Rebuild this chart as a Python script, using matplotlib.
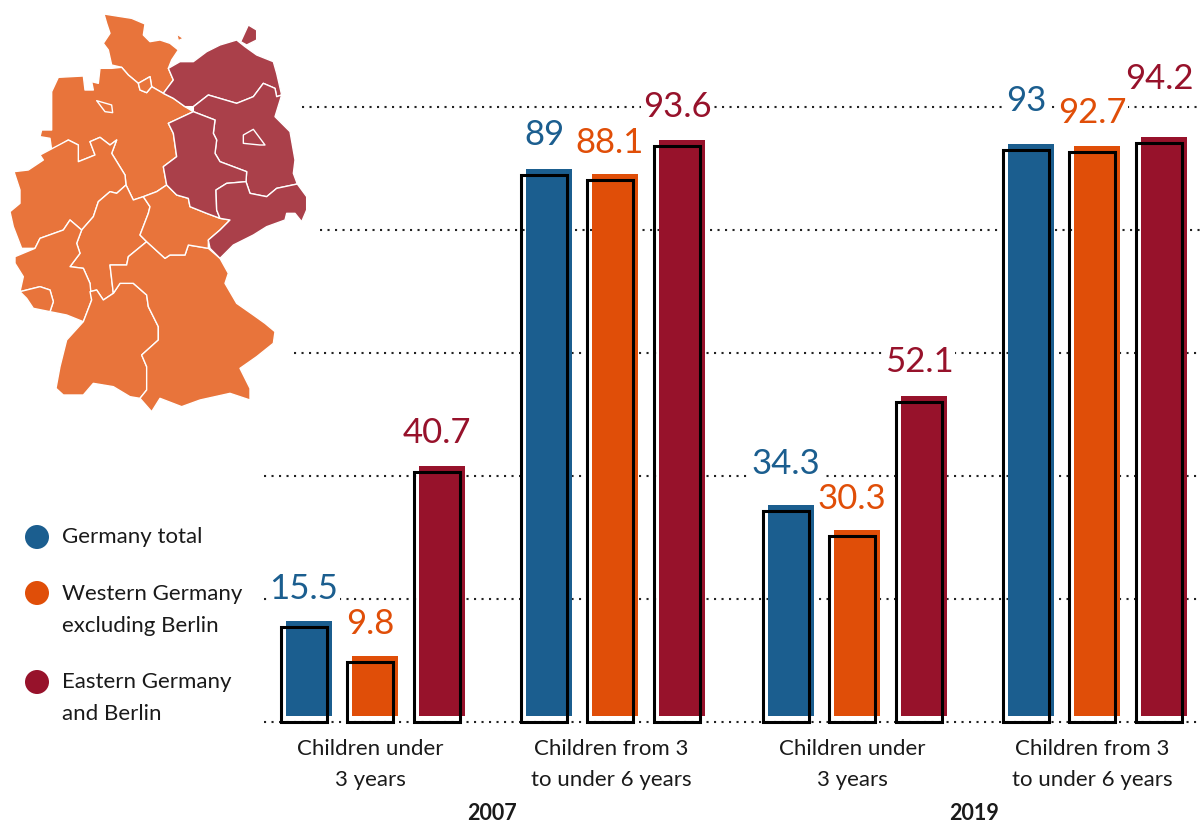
import matplotlib
matplotlib.use("Agg")
import matplotlib.pyplot as plt
from matplotlib.patches import Polygon, Circle, Rectangle

FONT = "Lato"
plt.rcParams["font.family"] = [FONT, "DejaVu Sans"]

# ---------- data ----------
groups = ["Children under\n3 years", "Children from 3\nto under 6 years",
          "Children under\n3 years", "Children from 3\nto under 6 years"]
years = ["2007", "2019"]
series = ["Germany total", "Western Germany\nexcluding Berlin", "Eastern Germany\nand Berlin"]
germany_total = [15.5, 89, 34.3, 93]
western = [9.8, 88.1, 30.3, 92.7]
eastern = [40.7, 93.6, 52.1, 94.2]
label_total = ["15.5", "89", "34.3", "93"]
label_west = ["9.8", "88.1", "30.3", "92.7"]
label_east = ["40.7", "93.6", "52.1", "94.2"]
grid_values = [0, 20, 40, 60, 80, 100]

# ---------- style ----------
colors = ["#1B5E8F", "#E04E08", "#97122B"]
MAP_W, MAP_E = "#E8743B", "#AA404A"
W, H = 1200, 825
Y0, PX = 722, 6.15

fig = plt.figure(figsize=(12, 8.25), dpi=100)
ax = fig.add_axes([0, 0, 1, 1])
ax.set_xlim(0, W)
ax.set_ylim(-(H - Y0) / PX, Y0 / PX)
ax.axis("off")

# gridlines
grid_start = [264, 264, 264, 294, 320, 302]
for v, xs in zip(grid_values, grid_start):
    ax.plot([xs, W], [v, v], color="#222222", lw=1.5, dashes=(1.0, 2.6), zorder=1)

group_x = [281, 521, 763, 1003]
bar_step = [0, 66, 133]
BW = 46
DX, DY = 5, 6 / PX
off_total = [38, 40, 47, 49]
off_west = [38, 37, 37, 39]
off_east = [39, 39, 40, 64]
sets = [(germany_total, label_total, off_total),
        (western, label_west, off_west),
        (eastern, label_east, off_east)]

for s, (vals, labs, offs) in enumerate(sets):
    for g, (v, lab, off) in enumerate(zip(vals, labs, offs)):
        x = group_x[g] + bar_step[s]
        ax.bar(x + DX, v, width=BW, bottom=DY, align="edge", color=colors[s], lw=0, zorder=2)
        ax.bar(x, v, width=BW, align="edge", facecolor="none", edgecolor="black", lw=2.2, zorder=3)
        ax.text(x + BW / 2, v + off / PX, lab, color=colors[s], fontsize=25, ha="center",
                va="center", zorder=4,
                bbox=dict(facecolor="white", edgecolor="none", pad=1))

def ypx(p):
    return (Y0 - p) / PX

# category labels
for x, g in zip([370, 611, 852, 1092], groups):
    a, b = g.split("\n")
    ax.text(x, ypx(749), a, ha="center", va="center", fontsize=16, color="#1a1a1a")
    ax.text(x, ypx(780), b, ha="center", va="center", fontsize=16, color="#1a1a1a")
for x, y in zip([492, 974], years):
    ax.text(x, ypx(813), y, ha="center", va="center", fontsize=15.5, fontweight="bold", color="#1a1a1a")

# legend + map overlay in pixel coordinates
ov = fig.add_axes([0, 0, 1, 1], facecolor="none")
ov.set_xlim(0, W)
ov.set_ylim(H, 0)
ov.axis("off")
for c, cy, name, tys in zip(colors, [537, 593, 682], series, [[537], [594, 626], [682, 714]]):
    ov.add_patch(Circle((37, cy), 12, color=c, lw=0))
    for t, ty in zip(name.split("\n"), tys):
        ov.text(62, ty, t, va="center", ha="left", fontsize=16, color="#1a1a1a")

# map outlines traced at 3x scale
sh = [(312,42),(350,48),(395,55),(435,72),(430,105),(450,125),(480,120),(510,130),(535,150),(515,180),(505,205),(520,240),(490,280),(455,260),(450,230),(415,250),(385,225),(365,202),(335,195),(325,150),(310,130),(330,100),(320,70)]
feh = [(530,102),(550,115),(535,122)]
hh = [(415,250),(450,230),(455,260),(440,278),(420,270)]
mv = [(505,205),(540,185),(580,185),(620,155),(660,135),(710,120),(735,140),(770,165),(820,185),(830,220),(845,285),(830,290),(825,265),(790,250),(760,290),(710,310),(625,285),(580,320),(555,320),(520,295),(490,280),(520,240)]
rug = [(722,125),(745,75),(770,90),(770,120),(740,135)]
bb = [(580,320),(625,285),(710,310),(760,290),(790,250),(825,265),(830,290),(845,285),(825,350),(870,395),(885,480),(880,520),(892,552),(830,565),(800,590),(750,580),(738,545),(740,515),(660,485),(645,460),(650,420),(640,400),(645,360),(580,335)]
be = [(730,405),(760,388),(795,435),(780,435),(730,430)]
st = [(505,370),(580,335),(645,360),(640,400),(650,420),(645,460),(660,485),(740,515),(738,545),(680,550),(648,570),(650,630),(660,655),(620,640),(570,620),(565,595),(530,585),(500,555),(490,500),(530,470),(520,400)]
sn = [(648,570),(680,550),(738,545),(750,580),(800,590),(830,565),(892,552),(920,590),(920,630),(905,665),(885,640),(860,640),(855,660),(800,680),(760,705),(700,735),(660,775),(630,745),(625,720),(660,690),(690,660),(660,655),(650,630)]
th = [(430,590),(470,575),(500,555),(530,585),(565,595),(570,620),(620,640),(660,655),(690,660),(660,690),(625,720),(625,745),(565,735),(555,765),(510,765),(495,775),(440,725),(420,705),(445,640),(450,620)]
by = [(330,795),(380,795),(385,770),(440,725),(495,775),(510,765),(555,765),(565,735),(625,745),(660,775),(685,820),(675,850),(710,910),(760,945),(795,970),(825,995),(820,1030),(770,1070),(720,1105),(750,1165),(750,1200),(690,1180),(600,1200),(545,1220),(480,1195),(455,1235),(420,1195),(440,1170),(440,1100),(425,1065),(475,1020),(475,980),(445,920),(440,885),(400,850),(360,850),(340,880)]
bw = [(250,965),(275,900),(270,875),(290,870),(310,900),(340,880),(360,850),(400,850),(440,885),(445,920),(475,980),(475,1020),(425,1065),(440,1100),(440,1170),(420,1195),(390,1190),(340,1160),(280,1150),(250,1185),(190,1185),(168,1165),(180,1100),(200,1020)]
he = [(295,605),(330,575),(350,580),(378,555),(400,600),(430,590),(450,620),(445,640),(420,705),(440,725),(385,770),(380,795),(330,795),(340,880),(310,900),(290,870),(270,875),(270,850),(250,805),(210,800),(240,760),(230,730),(245,690),(280,650)]
rp = [(45,770),(105,745),(120,715),(190,690),(210,660),(245,690),(230,730),(240,760),(210,800),(250,805),(270,850),(275,900),(250,965),(200,945),(150,935),(160,905),(150,870),(120,860),(60,875),(70,830),(45,790)]
sl = [(60,875),(120,860),(150,870),(160,905),(150,935),(100,925),(80,895)]
nw = [(42,515),(85,510),(130,480),(120,465),(205,420),(235,435),(235,485),(285,465),(270,425),(300,412),(330,435),(350,420),(335,460),(375,525),(378,555),(350,580),(330,575),(295,605),(280,650),(245,690),(210,660),(190,690),(120,715),(105,745),(65,745),(40,680),(30,635),(60,610),(60,570)]
ni = [(155,275),(175,232),(250,228),(255,270),(280,270),(275,245),(295,250),(300,205),(335,205),(365,202),(385,225),(415,250),(420,270),(440,278),(455,260),(490,280),(520,295),(555,320),(580,335),(505,370),(520,400),(530,470),(490,500),(500,555),(470,575),(430,590),(400,600),(378,555),(375,525),(335,460),(350,420),(330,435),(300,412),(270,425),(285,465),(235,485),(235,435),(205,420),(155,450),(150,415),(120,410),(125,390),(155,390)]
hb = [(290,302),(335,315),(338,338),(315,335)]

west_states = [sh, feh, ni, nw, he, rp, sl, bw, by, th, hh, hb]
east_states = [mv, rug, bb, st, sn, be]
for polys, col in [(west_states, MAP_W), (east_states, MAP_E)]:
    for p in polys:
        ov.add_patch(Polygon([(x / 3, y / 3) for x, y in p], closed=True, facecolor=col,
                             edgecolor="white", lw=1.0, joinstyle="round"))

fig.savefig("out.png", dpi=100, facecolor="white")
